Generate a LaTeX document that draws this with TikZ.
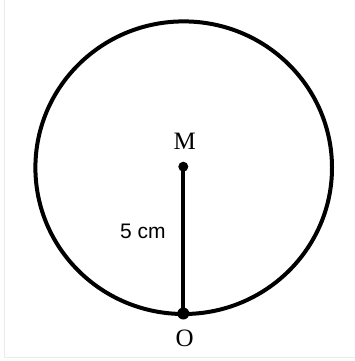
\documentclass[tikz,border=0pt]{standalone}
\usepackage{fontspec}
\setmainfont{Liberation Serif}
\newfontfamily\labelsans{Liberation Sans}
\begin{document}
\begin{tikzpicture}[x=1pt,y=-1pt,
  curve/.style={line width=4pt, black},
  ptdot/.style={circle, fill=black, inner sep=0pt},
  ptlabel/.style={font=\fontsize{25}{29}\selectfont, inner sep=0pt},
  lenlabel/.style={font=\labelsans\fontsize{21}{25}\selectfont, inner sep=0pt}]
\useasboundingbox (0,0) rectangle (355,361);
\draw[line width=1pt, black!8] (4.7,0) -- (4.7,357) -- (355,357);
\draw[curve] (183.7,167.7) ellipse [x radius=148.3, y radius=146.3];
\node[ptdot, minimum size=10pt] (M) at (183.3,166.7) {};
\node[ptdot, minimum size=12pt] (O) at (183.3,313.5) {};
\draw[curve] (M.center) -- (O.center);
\node[ptlabel] (Ml) at (184.7,141) {M};
\node[ptlabel] (Ol) at (184.7,338.3) {O};
\node[lenlabel] (len) at (143,231.7) {5 cm};
\end{tikzpicture}
\end{document}
